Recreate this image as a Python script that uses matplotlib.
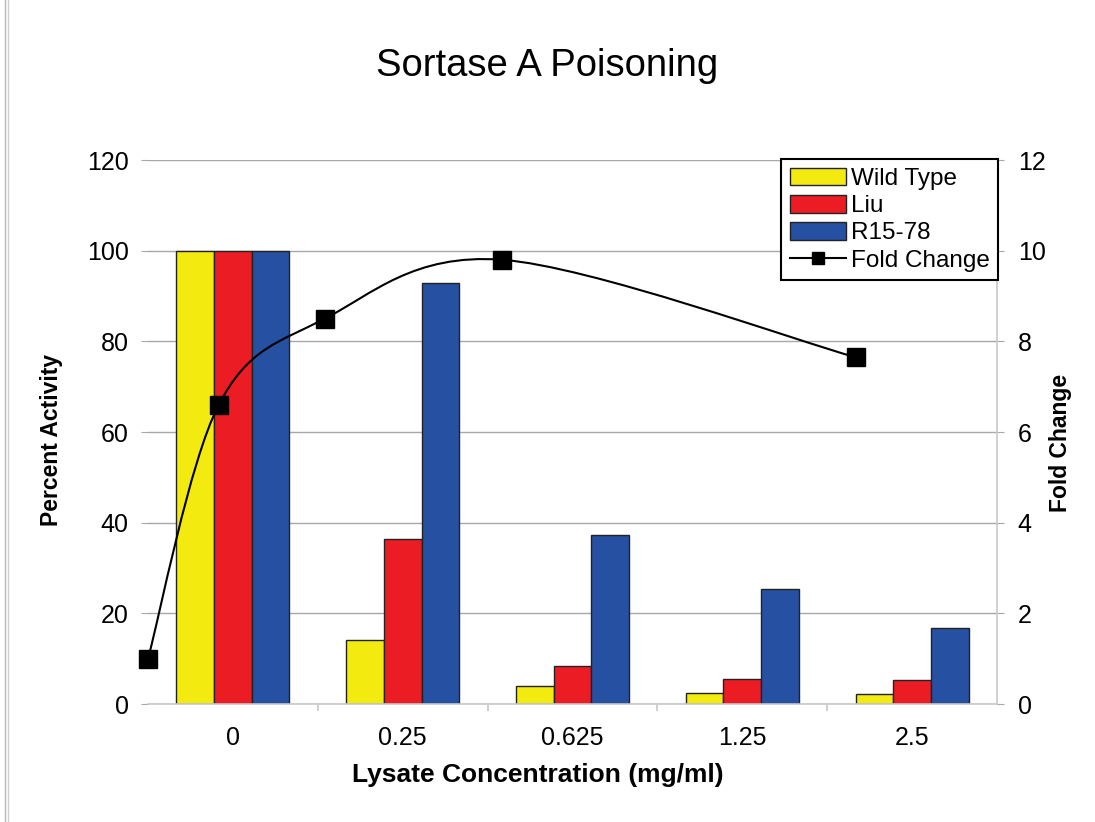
import matplotlib
matplotlib.use("Agg")
import matplotlib.pyplot as plt
from matplotlib.path import Path
from matplotlib.patches import PathPatch
from matplotlib.lines import Line2D
import numpy as np

plt.rcParams['font.family'] = ['Liberation Sans', 'DejaVu Sans']

# lysate concentrations (mg/ml) and their axis labels
conc = [0, 0.25, 0.625, 1.25, 2.5]
conc_labels = ['0', '0.25', '0.625', '1.25', '2.5']

# percent activity per strain
wild_type = [100, 14.1, 4.0, 2.5, 2.2]
liu = [100, 36.5, 8.3, 5.6, 5.2]
r15_78 = [100, 92.8, 37.3, 25.3, 16.8]

# fold change (right axis)
fold_change = [1.0, 6.6, 8.5, 9.8, 7.65]

W, H = 1095, 822
fig = plt.figure(figsize=(W / 100, H / 100), dpi=100)
rect = [148 / W, 1 - 704 / H, (997 - 148) / W, (704 - 160) / H]

grid_col = '#a8a8a8'
axis_col = '#c8c8c8'

# --- bars ---
ax = fig.add_axes(rect)
x = np.arange(len(conc_labels))
bw = 0.222
b1 = ax.bar(x - bw, wild_type, bw, color='#f3ea10', edgecolor='#222222', lw=1, label='Wild Type', zorder=2)
b2 = ax.bar(x, liu, bw, color='#ec1c24', edgecolor='#222222', lw=1, label='Liu', zorder=2)
b3 = ax.bar(x + bw, r15_78, bw, color='#2651a3', edgecolor='#222222', lw=1, label='R15-78', zorder=2)

ax.set_xlim(-0.5, len(conc_labels) - 0.5)
ax.set_ylim(0, 120)
ax.set_yticks(range(0, 121, 20))
ax.yaxis.grid(True, color=grid_col, lw=1)
ax.set_axisbelow(True)
ax.tick_params(axis='y', length=5, color=grid_col, pad=9, labelsize=18)

# category separators as major ticks, names on minor ticks
ax.set_xticks(x[1:] - 0.5)
ax.set_xticks(x, minor=True)
ax.set_xticklabels([])
ax.set_xticklabels(conc_labels, minor=True)
ax.tick_params(axis='x', which='major', length=5, color=axis_col, width=1.2)
ax.tick_params(axis='x', which='minor', length=0, pad=16, labelsize=18)

for s in ['left', 'top', 'right']:
    ax.spines[s].set_visible(False)
ax.spines['bottom'].set_color(axis_col)
ax.spines['bottom'].set_linewidth(1.2)

# --- fold change line on its own x scale ---
ax2 = fig.add_axes(rect)
ax2.patch.set_visible(False)
ax2.set_xlim(0, 3)
ax2.set_ylim(0, 12)
ax2.xaxis.set_visible(False)
ax2.yaxis.tick_right()
ax2.set_yticks(range(0, 13, 2))
ax2.tick_params(axis='y', length=5, color=grid_col, pad=10, labelsize=18)
for s in ['left', 'top', 'bottom']:
    ax2.spines[s].set_visible(False)
ax2.spines['right'].set_color(axis_col)
ax2.spines['right'].set_linewidth(1.2)

# smoothed curve through the points (Catmull-Rom as cubic Beziers)
pts = np.column_stack([conc, fold_change]).astype(float)
ext = np.vstack([pts[0], pts, pts[-1]])
verts = [pts[0]]
codes = [Path.MOVETO]
for i in range(len(pts) - 1):
    p0, p1, p2, p3 = ext[i], ext[i + 1], ext[i + 2], ext[i + 3]
    verts += [p1 + (p2 - p0) / 6, p2 - (p3 - p1) / 6, p2]
    codes += [Path.CURVE4] * 3
ax2.add_patch(PathPatch(Path(verts, codes), fill=False, ec='black', lw=1.5, zorder=3, clip_on=False))
ax2.plot(conc, fold_change, 's', color='black', ms=13, zorder=4, clip_on=False)

# --- text ---
fig.text(547 / W, 1 - 66 / H, 'Sortase A Poisoning', ha='center', va='center', fontsize=27.5)
fig.text(538 / W, 1 - 775 / H, 'Lysate Concentration (mg/ml)', ha='center', va='center',
         fontsize=19, fontweight='bold')
fig.text(52 / W, 1 - 440 / H, 'Percent Activity', ha='center', va='center', rotation=90,
         fontsize=16.5, fontweight='bold')
fig.text(1060 / W, 1 - 443 / H, 'Fold Change', ha='center', va='center', rotation=90,
         fontsize=16.5, fontweight='bold')

# --- legend ---
fc_handle = Line2D([], [], color='black', lw=1.5, marker='s', ms=8)
leg = fig.legend([b1, b2, b3, fc_handle], ['Wild Type', 'Liu', 'R15-78', 'Fold Change'],
                 loc='upper right', bbox_to_anchor=(998 / W, 1 - 159 / H),
                 fancybox=False, framealpha=1, edgecolor='black', fontsize=17.5,
                 borderpad=0.35, labelspacing=0.2, handlelength=2.3, handleheight=0.75,
                 handletextpad=0.2, borderaxespad=0)
leg.get_frame().set_linewidth(1.5)

# page edge lines
for xp, c in [(5, '#b8b8b8'), (8, '#d0d0d0')]:
    fig.add_artist(Line2D([xp / W, xp / W], [0, 1], transform=fig.transFigure, color=c, lw=1))

fig.savefig('out.png', dpi=100)
